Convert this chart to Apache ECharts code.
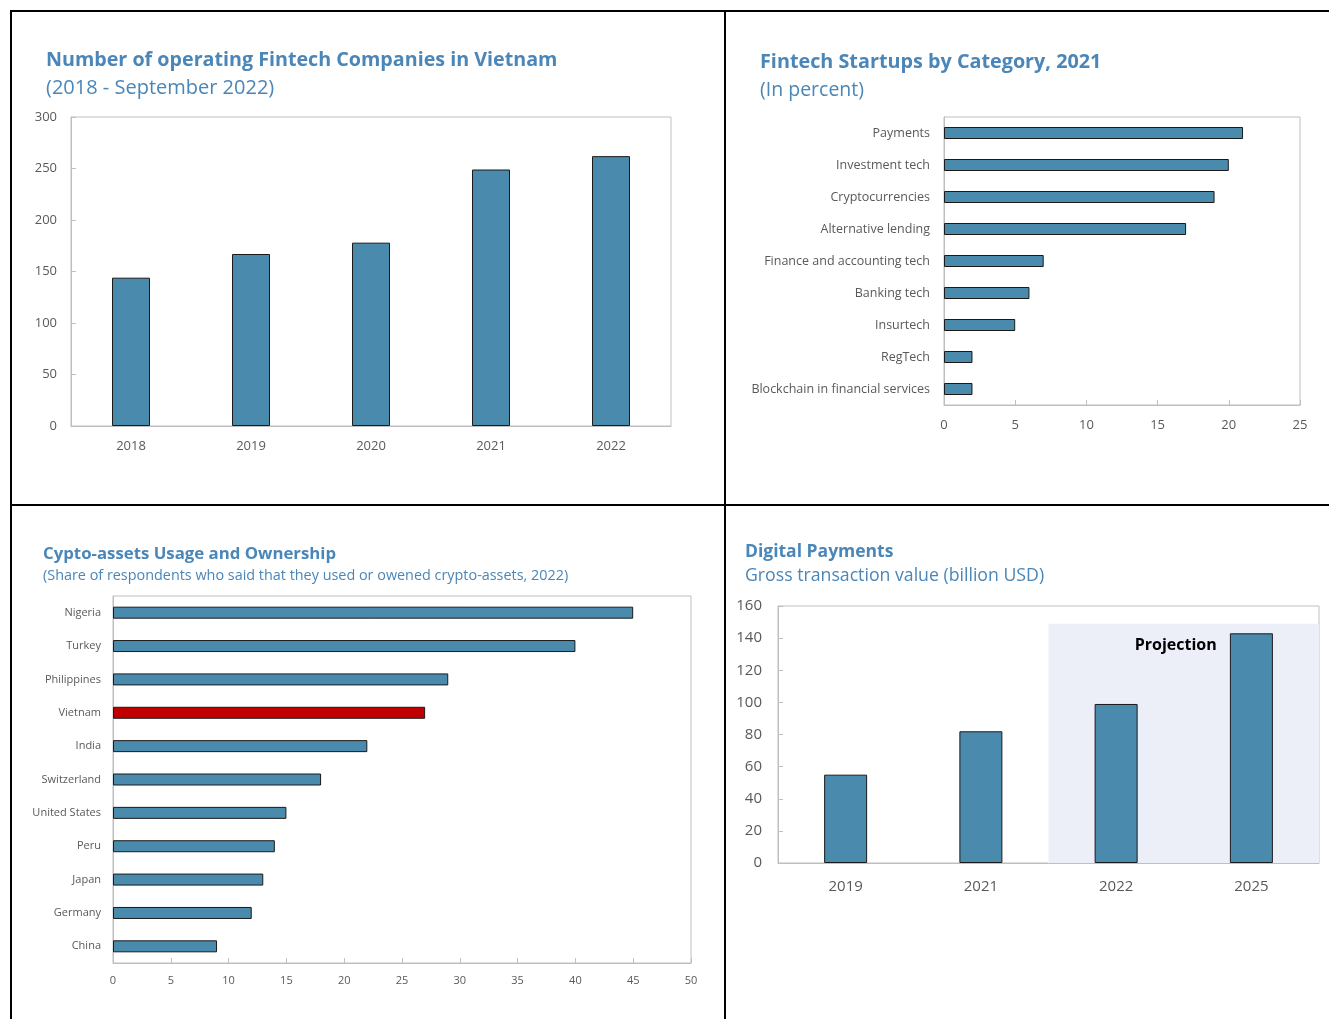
<!DOCTYPE html>
<html>
<head>
<meta charset="utf-8">
<script src="https://cdn.jsdelivr.net/npm/echarts@6/dist/echarts.min.js"></script>
<style>
  html, body { margin: 0; padding: 0; background: #fff; }
  #chart { position: absolute; left: 0; top: 0; width: 1329px; height: 1019px; }
  .line { position: absolute; background: #000; }
</style>
</head>
<body>
<div id="chart"></div>
<!-- panel frame -->
<div class="line" style="left:10px;top:10px;width:1319px;height:2px"></div>
<div class="line" style="left:10px;top:10px;width:2px;height:1009px"></div>
<div class="line" style="left:724px;top:10px;width:2px;height:1009px"></div>
<div class="line" style="left:10px;top:504px;width:1319px;height:2px"></div>

<script>
// 1. operating fintech companies
const fintechYears = ['2018', '2019', '2020', '2021', '2022']
const fintechCounts = [144, 167, 178, 249, 262]

// 2. startups by category (percent)
const startupCategories = [
  'Payments', 'Investment tech', 'Cryptocurrencies', 'Alternative lending',
  'Finance and accounting tech', 'Banking tech', 'Insurtech', 'RegTech',
  'Blockchain in financial services'
]
const startupShares = [21, 20, 19, 17, 7, 6, 5, 2, 2]

// 3. crypto usage (percent of respondents)
const cryptoCountries = [
  'Nigeria', 'Turkey', 'Philippines', 'Vietnam', 'India', 'Switzerland',
  'United States', 'Peru', 'Japan', 'Germany', 'China'
]
const cryptoShares = [45, 40, 29, 27, 22, 18, 15, 14, 13, 12, 9]
const highlightCountry = 'Vietnam'

// 4. digital payments (billion USD)
const paymentYears = ['2019', '2021', '2022', '2025']
const paymentValues = [55, 82, 99, 143]
// projection band, in category slots (2022 .. 2025) and value height
const projectionFrom = 2
const projectionTo = 4
const projectionTop = 149

const BLUE = '#4a8bad'
const RED = '#c00000'
const TITLE = '#4a86b8'
const LABEL = '#595959'
const AXIS = '#bfbfbf'
const FONT = 'Open Sans'

const barStyle = { color: BLUE, borderColor: '#1a1a1a', borderWidth: 1 }

function gridBox(left, top, width, height) {
  return { left, top, width, height, show: true, borderColor: AXIS, borderWidth: 1, containLabel: false }
}

function titleItem(text, left, top, size, bold) {
  return {
    text, left, top, padding: 0,
    textStyle: { color: TITLE, fontFamily: FONT, fontSize: size, fontWeight: bold ? 'bold' : 'normal' }
  }
}

function catAxis(gridIndex, data, size, margin, extra) {
  return Object.assign({
    type: 'category', gridIndex, data,
    axisLine: { lineStyle: { color: AXIS } },
    axisTick: { inside: true, length: 5, lineStyle: { color: AXIS } },
    axisLabel: { color: LABEL, fontFamily: FONT, fontSize: size, margin }
  }, extra || {})
}

function valAxis(gridIndex, max, interval, size, margin) {
  return {
    type: 'value', gridIndex, min: 0, max, interval,
    axisLine: { show: true, lineStyle: { color: AXIS } },
    axisTick: { show: true, inside: true, length: 5, lineStyle: { color: AXIS } },
    splitLine: { show: false },
    axisLabel: { color: LABEL, fontFamily: FONT, fontSize: size, margin }
  }
}

const chart = echarts.init(document.getElementById('chart'))

chart.setOption({
  animation: false,
  title: [
    titleItem('Number of operating Fintech Companies in Vietnam', 46, 50, 19.7, true),
    titleItem('(2018 - September 2022)', 46, 78, 20, false),
    titleItem('Fintech Startups by Category, 2021', 760, 52, 19.8, true),
    titleItem('(In percent)', 760, 80, 19.5, false),
    titleItem('Cypto-assets Usage and Ownership', 43, 546, 16.8, true),
    titleItem('(Share of respondents who said that they used or owened crypto-assets, 2022)', 43, 569, 14.4, false),
    titleItem('Digital Payments', 745, 543, 17.5, true),
    titleItem('Gross transaction value (billion USD)', 745, 567, 17.7, false)
  ],
  grid: [
    gridBox(71, 117, 600, 309),
    gridBox(944, 117, 356, 288),
    gridBox(113, 596, 578, 367),
    gridBox(778, 606, 541, 257)
  ],
  xAxis: [
    catAxis(0, fintechYears, 13, 14),
    valAxis(1, 25, 5, 13, 14),
    valAxis(2, 50, 5, 11, 12),
    catAxis(3, paymentYears, 15, 16),
    { type: 'value', gridIndex: 3, min: 0, max: paymentYears.length, show: false }
  ],
  yAxis: [
    valAxis(0, 300, 50, 13, 14),
    catAxis(1, startupCategories, 12.5, 14, { inverse: true }),
    catAxis(2, cryptoCountries, 11, 12, { inverse: true }),
    valAxis(3, 160, 20, 15, 16)
  ],
  series: [
    {
      type: 'bar', xAxisIndex: 0, yAxisIndex: 0,
      data: fintechCounts, barWidth: 38, itemStyle: barStyle
    },
    {
      type: 'bar', xAxisIndex: 1, yAxisIndex: 1,
      data: startupShares, barWidth: 12, itemStyle: barStyle
    },
    {
      type: 'bar', xAxisIndex: 2, yAxisIndex: 2, barWidth: 12, itemStyle: barStyle,
      data: cryptoShares.map((v, i) => cryptoCountries[i] === highlightCountry
        ? { value: v, itemStyle: { color: RED } }
        : v)
    },
    {
      // projection shading, on the hidden slot axis
      type: 'line', xAxisIndex: 4, yAxisIndex: 3, data: [], z: 1, silent: true,
      markArea: {
        silent: true,
        itemStyle: { color: '#eceff7' },
        label: {
          show: true, position: 'insideTop', distance: 14, offset: [-8, 0],
          color: '#000', fontFamily: FONT, fontSize: 16, fontWeight: 'bold'
        },
        data: [[
          { name: 'Projection', xAxis: projectionFrom, yAxis: 0 },
          { xAxis: projectionTo, yAxis: projectionTop }
        ]]
      }
    },
    {
      type: 'bar', xAxisIndex: 3, yAxisIndex: 3, z: 3,
      data: paymentValues, barWidth: 43, itemStyle: barStyle
    }
  ]
})
</script>
</body>
</html>
